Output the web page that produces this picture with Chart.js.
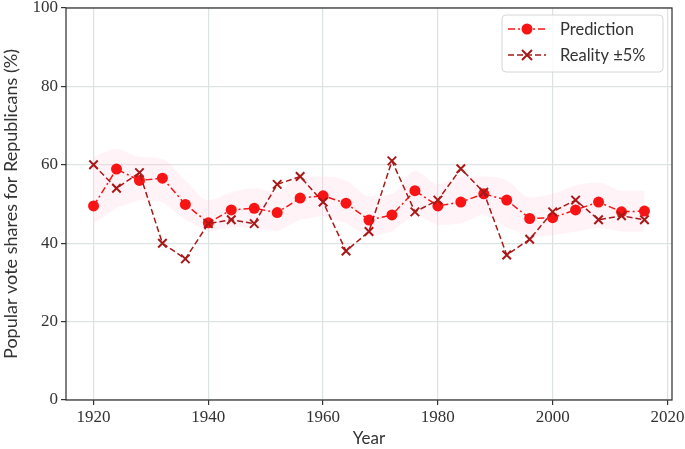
<!DOCTYPE html>
<html>
<head>
<meta charset="utf-8">
<script src="https://cdn.jsdelivr.net/npm/chart.js@4.4.1/dist/chart.umd.min.js"></script>
<style>
  html, body { margin: 0; padding: 0; background: #fff; }
  #wrap { width: 685px; height: 449px; }
</style>
</head>
<body>
<div id="wrap"><canvas id="chart"></canvas></div>
<script>
// 数据
const years = [1920, 1924, 1928, 1932, 1936, 1940, 1944, 1948, 1952, 1956, 1960, 1964,
               1968, 1972, 1976, 1980, 1984, 1988, 1992, 1996, 2000, 2004, 2008, 2012, 2016];
const prediction = [49.5, 58.9, 56.0, 56.6, 49.9, 45.2, 48.5, 48.9, 47.8, 51.5, 52.1, 50.2,
                    45.9, 47.2, 53.4, 49.5, 50.5, 52.6, 51.0, 46.3, 46.5, 48.5, 50.5, 48.0, 48.2];
const reality = [60, 54, 58, 40, 36, 45, 46, 45, 55, 57, 50.5, 38,
                 43, 61, 48, 51, 59, 53, 37, 41, 48, 51, 46, 47, 46];
const bandUpper = [62, 64, 62, 61.5, 56, 51, 53, 54, 53, 57, 57, 56,
                   52, 52.6, 58.5, 55, 57, 57, 56, 51.7, 52.6, 54.7, 55.5, 53.4, 53.4];
const bandLower = [45, 49, 51, 50.5, 46, 43, 44, 44, 43, 46, 47, 45,
                   41.5, 43, 47.5, 44.5, 45, 47.5, 44, 41.5, 42, 43, 44, 43, 43];
const xTicks = [1920, 1940, 1960, 1980, 2000, 2020];
const yTicks = [0, 20, 40, 60, 80, 100];

const predColor = '#f81414';
const realColor = '#a81818';
const textColor = '#333333';

function toXY(vals) {
    return years.map((y, i) => ({ x: y, y: vals[i] }));
}

// 边框和图例
const framePlugin = {
    id: 'frame',
    afterDraw(chart) {
        const ctx = chart.ctx;
        const a = chart.chartArea;
        ctx.save();
        ctx.strokeStyle = '#2b2b2b';
        ctx.lineWidth = 1.2;
        ctx.strokeRect(a.left, a.top, a.right - a.left, a.bottom - a.top);

        // 图例
        const bx = 502, by = 15, bw = 161, bh = 57, r = 4;
        ctx.fillStyle = 'rgba(255,255,255,0.85)';
        ctx.strokeStyle = '#d6d6d6';
        ctx.lineWidth = 1;
        ctx.beginPath();
        ctx.moveTo(bx + r, by);
        ctx.arcTo(bx + bw, by, bx + bw, by + bh, r);
        ctx.arcTo(bx + bw, by + bh, bx, by + bh, r);
        ctx.arcTo(bx, by + bh, bx, by, r);
        ctx.arcTo(bx, by, bx + bw, by, r);
        ctx.closePath();
        ctx.fill();
        ctx.stroke();

        const x0 = 508, x1 = 546, xm = 527;
        // Prediction
        let yy = 29;
        ctx.strokeStyle = predColor;
        ctx.lineWidth = 1.5;
        ctx.setLineDash([7, 3, 2, 3]);
        ctx.beginPath(); ctx.moveTo(x0, yy); ctx.lineTo(x1, yy); ctx.stroke();
        ctx.setLineDash([]);
        ctx.fillStyle = predColor;
        ctx.beginPath(); ctx.arc(xm, yy, 5.5, 0, Math.PI * 2); ctx.fill();
        // Reality
        yy = 55;
        ctx.strokeStyle = realColor;
        ctx.setLineDash([6, 3]);
        ctx.beginPath(); ctx.moveTo(x0, yy); ctx.lineTo(x1, yy); ctx.stroke();
        ctx.setLineDash([]);
        ctx.lineWidth = 2;
        ctx.beginPath();
        ctx.moveTo(xm - 5, yy - 5); ctx.lineTo(xm + 5, yy + 5);
        ctx.moveTo(xm - 5, yy + 5); ctx.lineTo(xm + 5, yy - 5);
        ctx.stroke();

        ctx.fillStyle = textColor;
        ctx.font = '16.5px Lato, "DejaVu Sans", sans-serif';
        ctx.textBaseline = 'middle';
        ctx.fillText('Prediction', 560, 30);
        ctx.fillText('Reality \u00b15%', 560, 56);
        ctx.restore();
    }
};

const ctx = document.getElementById('chart');
new Chart(ctx, {
    type: 'line',
    data: {
        datasets: [
            {
                label: 'lower',
                data: toXY(bandLower),
                borderWidth: 0,
                pointRadius: 0,
                fill: false,
                order: 4
            },
            {
                label: 'band',
                data: toXY(bandUpper),
                borderWidth: 0,
                pointRadius: 0,
                backgroundColor: 'rgba(255, 200, 225, 0.22)',
                fill: '-1',
                cubicInterpolationMode: 'monotone',
                order: 3
            },
            {
                label: 'Prediction',
                data: toXY(prediction),
                borderColor: predColor,
                backgroundColor: predColor,
                borderWidth: 1.5,
                borderDash: [7, 3, 2, 3],
                pointStyle: 'circle',
                pointRadius: 5.5,
                pointBorderWidth: 0,
                fill: false,
                order: 2
            },
            {
                label: 'Reality ±5%',
                data: toXY(reality),
                borderColor: realColor,
                backgroundColor: realColor,
                borderWidth: 1.5,
                borderDash: [6, 3],
                pointStyle: 'crossRot',
                pointRadius: 6,
                pointBorderWidth: 2,
                fill: false,
                order: 1
            }
        ]
    },
    options: {
        responsive: true,
        maintainAspectRatio: false,
        animation: false,
        layout: { padding: { top: 7, right: 13, left: 0, bottom: 0 } },
        plugins: {
            legend: { display: false },
            tooltip: { enabled: false }
        },
        scales: {
            x: {
                type: 'linear',
                min: 1915.2,
                max: 2020.8,
                afterBuildTicks: s => { s.ticks = xTicks.map(v => ({ value: v })); },
                afterFit: s => { s.height = 49; s.paddingLeft = 0; s.paddingRight = 0; },
                grid: { color: '#dde2e2', lineWidth: 1.2, tickColor: '#333', tickLength: 5 },
                border: { display: false },
                ticks: {
                    color: textColor,
                    padding: 2,
                    maxRotation: 0,
                    callback: v => String(v),
                    font: { family: '"Liberation Serif", serif', size: 17 }
                },
                title: {
                    display: true,
                    text: 'Year',
                    color: textColor,
                    padding: { top: 0, bottom: 0 },
                    font: { family: 'Lato, "DejaVu Sans", sans-serif', size: 17 }
                }
            },
            y: {
                min: 0,
                max: 100,
                afterBuildTicks: s => { s.ticks = yTicks.map(v => ({ value: v })); },
                afterFit: s => { s.width = 66; s.paddingTop = 0; s.paddingBottom = 0; },
                grid: { color: '#dde2e2', lineWidth: 1.2, tickColor: '#333', tickLength: 5 },
                border: { display: false },
                ticks: {
                    color: textColor,
                    padding: 3,
                    callback: v => String(v),
                    font: { family: '"Liberation Serif", serif', size: 17 }
                },
                title: {
                    display: true,
                    text: 'Popular vote shares for Republicans (%)',
                    color: textColor,
                    padding: { top: 0, bottom: 1 },
                    font: { family: 'Lato, "DejaVu Sans", sans-serif', size: 18 }
                }
            }
        }
    },
    plugins: [framePlugin]
});
</script>
</body>
</html>
